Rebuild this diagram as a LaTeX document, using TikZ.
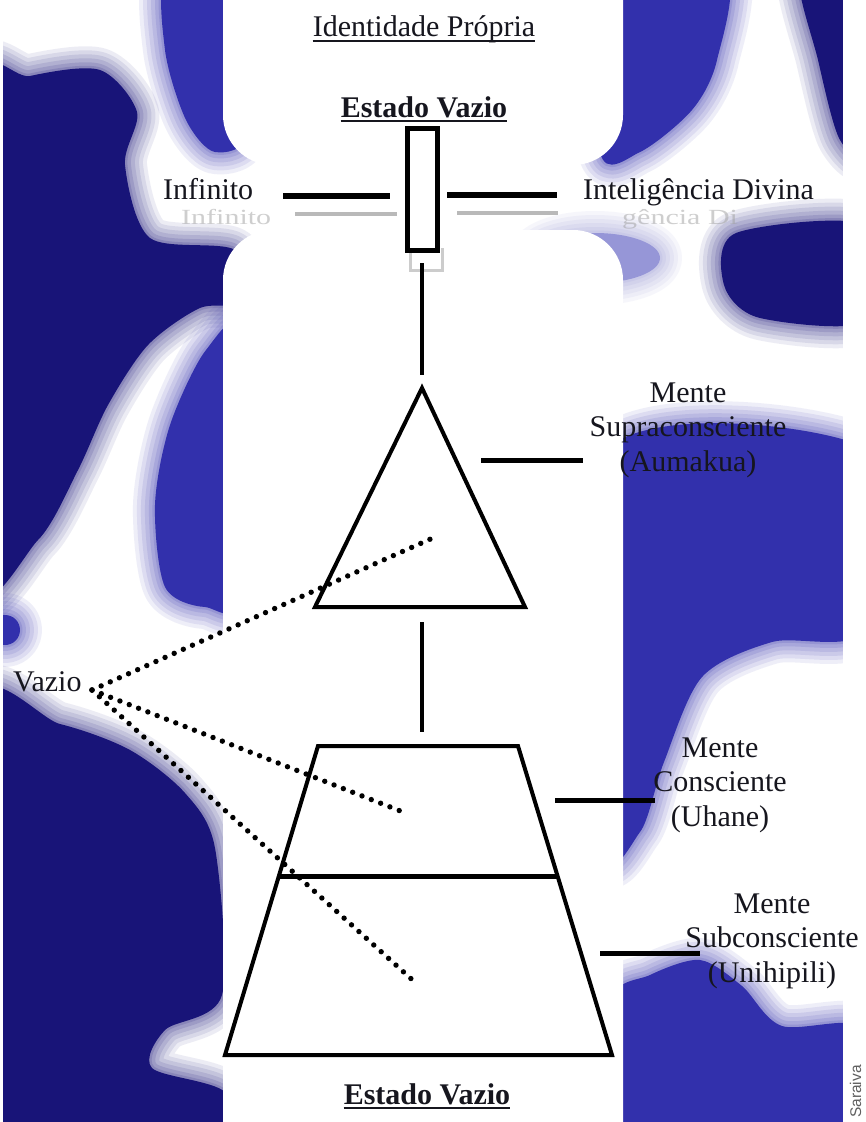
\documentclass[tikz,border=0pt]{standalone}
\usepackage{fontspec}
\setmainfont{Liberation Serif}
\newfontfamily\sarfont{Liberation Sans}
\definecolor{bgblue}{RGB}{50,48,172}
\definecolor{bgnavy}{RGB}{24,20,120}
\definecolor{bglight}{RGB}{150,150,215}
\definecolor{ink}{RGB}{22,22,30}
\tikzset{
  blob/.style={fill=#1,
    preaction={draw=#1, fill=none, draw opacity=0.08, line width=44pt, line join=round},
    preaction={draw=#1, fill=none, draw opacity=0.09, line width=36pt, line join=round},
    preaction={draw=#1, fill=none, draw opacity=0.10, line width=28pt, line join=round},
    preaction={draw=#1, fill=none, draw opacity=0.11, line width=20pt, line join=round},
    preaction={draw=#1, fill=none, draw opacity=0.13, line width=12pt, line join=round},
    preaction={draw=#1, fill=none, draw opacity=0.15, line width=5pt, line join=round}},
  lbl/.style={font=\fontsize{30}{34.5}\selectfont, text=ink, inner sep=0pt},
  ghost/.style={font=\fontsize{30}{34.5}\selectfont, text=gray!75, inner sep=0pt, opacity=0.5, yscale=0.72},
  shapeline/.style={draw=black, line width=4pt, line join=miter},
  conn/.style={draw=black, line width=4pt},
  lline/.style={draw=black, line width=5pt},
  hline/.style={draw=black, line width=6pt},
  shadowline/.style={draw=gray!55, line width=4pt},
  dotline/.style={draw=black, line width=5.4pt, line cap=round, dash pattern=on 0pt off 10pt},
  ulrule/.style={draw=ink, line width=2.2pt}
}
\begin{document}
\begin{tikzpicture}[x=1pt,y=-1pt]
\useasboundingbox (0,0) rectangle (866,1122);
\fill[white] (0,0) rectangle (866,1122);
% ---------- background blobs ----------
\begin{scope}
\clip (3,0) rectangle (843,1122);
\path[blob=bglight] (595,258) ellipse (65 and 25);
\path[blob=bgblue] plot[smooth cycle] coordinates {(168,-30) (250,-30) (250,128) (215,152) (186,120) (165,50)};
\path[blob=bgnavy] plot[smooth cycle] coordinates {(-30,98) (30,76) (100,70) (137,112) (125,165) (150,238) (235,250) (245,302) (200,308) (148,345) (108,405) (78,470) (38,540) (-30,578)};
\path[blob=bgblue] plot[smooth cycle] coordinates {(206,350) (245,333) (245,592) (205,607) (165,587) (155,505) (170,425)};
\path[blob=bgblue] (5,630) circle (15);
\path[blob=bgnavy] plot[smooth cycle] coordinates {(-30,710) (60,724) (130,750) (185,793) (215,848) (222,995) (165,1030) (152,1068) (225,1092) (240,1150) (-30,1150)};
\path[blob=bgblue] plot[smooth cycle] coordinates {(600,-30) (724,-30) (717,60) (692,110) (640,152) (600,152)};
\path[blob=bgnavy] plot[smooth cycle] coordinates {(800,-30) (870,-30) (870,150) (840,140) (818,60)};
\path[blob=bgnavy] plot[smooth cycle] coordinates {(736,233) (870,226) (870,320) (760,318) (724,285)};
\path[blob=bgblue] plot[smooth cycle] coordinates {(600,456) (870,450) (870,627) (772,642) (702,677) (664,762) (640,832) (600,844)};
\path[blob=bgblue] plot[smooth cycle] coordinates {(610,1003) (650,975) (700,960) (742,986) (782,1026) (870,1030) (870,1150) (610,1150)};
\end{scope}
% ---------- white panels ----------
\fill[white, rounded corners=50pt] (223,-60) rectangle (623,165);
\fill[white, rounded corners=50pt] (223,230) rectangle (623,1200);
\fill[white] (843,0) rectangle (866,1122);
\fill[white] (0,0) rectangle (3,1122);
% ---------- top texts ----------
\node[lbl, anchor=base] (idp) at (424,36) {Identidade Própria};
\draw[ulrule] ([yshift=-5pt]idp.base west) -- ([yshift=-5pt]idp.base east);
\node[lbl, font=\fontsize{30}{34.5}\selectfont\bfseries, anchor=base] (ev1) at (424,117) {Estado Vazio};
\draw[ulrule] ([yshift=-4pt]ev1.base west) -- ([yshift=-4pt]ev1.base east);
% ghosts (faint reflections)
\node[ghost, anchor=base west] (infG) at (181,224) {Infinito};
\node[ghost, anchor=base west] (intG) at (622,224) {gência Di};
\node[lbl, anchor=base west] (inf) at (163,199) {Infinito};
\node[lbl, anchor=base west] (intd) at (583,199) {Inteligência Divina};
% shadow lines and box
\coordinate (sh1a) at (295,214); \coordinate (sh1b) at (397,214);
\coordinate (sh2a) at (457,213); \coordinate (sh2b) at (558,213);
\draw[shadowline] (sh1a) -- (sh1b);
\draw[shadowline] (sh2a) -- (sh2b);
\draw[gray!40, line width=3pt] (410,248) -- (410,270) -- (442,270) -- (442,248);
\node[draw=black, fill=white, line width=5pt, minimum width=30pt, minimum height=122pt, inner sep=0pt] (box) at (422,189.5) {};
\coordinate (h1a) at (283,196); \coordinate (h1b) at (390,196);
\coordinate (h2a) at (447,195); \coordinate (h2b) at (557,195);
\draw[hline] (h1a) -- (h1b);
\draw[hline] (h2a) -- (h2b);
% ---------- triangle ----------
\coordinate (tA) at (422,388);
\coordinate (tB) at (315,607);
\coordinate (tC) at (525,607);
\coordinate (tM) at (422,607);
\draw[shapeline] (tA) -- (tC) -- (tB) -- cycle;
\draw[conn, shorten <=10pt, shorten >=13pt] (box.south) -- (tA);
% ---------- trapezoid ----------
\coordinate (q1) at (318,746);
\coordinate (q2) at (518,746);
\coordinate (q3) at (612,1055);
\coordinate (q4) at (225,1055);
\coordinate (qM) at (422,746);
\coordinate (dL) at (279,876);
\coordinate (dR) at (557.5,876);
\draw[shapeline] (q1) -- (q2) -- (q3) -- (q4) -- cycle;
\draw[line width=5pt] (dL) -- (dR);
\draw[conn, shorten <=15pt, shorten >=14pt] (tM) -- (qM);
% ---------- labels ----------
\node[lbl, align=center] (supra) at (688,430) {Mente\\Supraconsciente\\(Aumakua)};
\node[lbl, align=center] (consc) at (720,785) {Mente\\Consciente\\(Uhane)};
\node[lbl, align=center] (subc) at (772,941) {Mente\\Subconsciente\\(Unihipili)};
\coordinate (s1a) at (481,460); \coordinate (s1b) at (583,460);
\coordinate (s2a) at (555,800); \coordinate (s2b) at (655,800);
\coordinate (s3a) at (600,953); \coordinate (s3b) at (700,953);
\draw[lline] (s1a) -- (s1b);
\draw[lline] (s2a) -- (s2b);
\draw[lline] (s3a) -- (s3b);
% ---------- Vazio ----------
\node[lbl, anchor=base west] (vazio) at (13,691) {Vazio};
\coordinate (vz) at (92,690);
\coordinate (d1) at (435,537);
\coordinate (d2) at (403,812);
\coordinate (d3) at (418,985);
\draw[dotline] (vz) -- (d1);
\draw[dotline] (vz) -- (d2);
\draw[dotline] (vz) -- (d3);
% ---------- bottom ----------
\node[lbl, font=\fontsize{30}{34.5}\selectfont\bfseries, anchor=base] (ev2) at (427,1104) {Estado Vazio};
\draw[ulrule] ([yshift=-4pt]ev2.base west) -- ([yshift=-4pt]ev2.base east);
\node[rotate=90, anchor=base west, inner sep=0pt, font=\sarfont\fontsize{15.5}{16}\selectfont, text=gray!75!black] (sar) at (861,1118) {Saraiva};
\end{tikzpicture}
\end{document}
